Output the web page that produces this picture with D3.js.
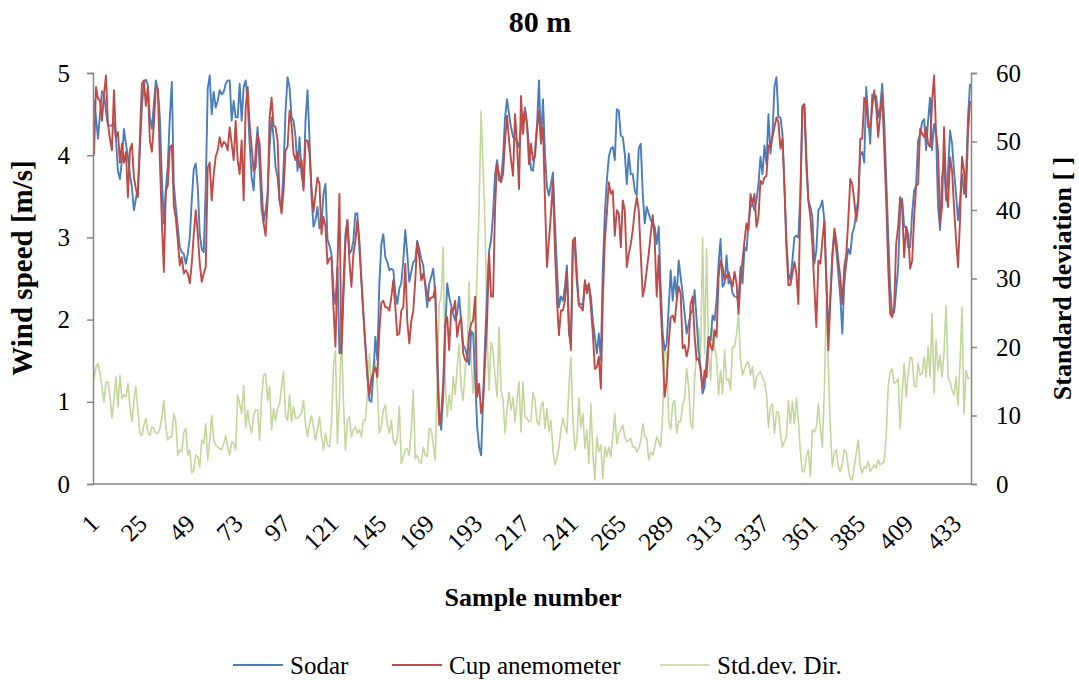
<!DOCTYPE html>
<html>
<head>
<meta charset="utf-8">
<script src="https://cdn.jsdelivr.net/npm/d3@7"></script>
<style>
  body { margin: 0; background: #fff; }
  text { font-family: "Liberation Serif", "Times New Roman", serif; }
</style>
</head>
<body>
<svg id="chart"></svg>
<script>
const width = 1079;
const height = 680;

// wind speed from the sodar, m/s
const sodar = [
  4.68,4.46,4.2,4.5,4.78,4.74,4.54,4.36,4.36,4.36,
  4.4,4.2,3.81,3.71,3.94,4.32,4.14,3.98,3.77,3.61,
  3.33,3.47,3.61,4.06,4.58,4.89,4.92,4.85,4.46,4.32,
  4.62,4.91,4.79,4.46,3.73,3.17,3.57,3.89,4.46,4.89,
  3.65,3.37,3.13,2.88,2.82,2.8,2.68,2.8,3.0,3.45,
  3.83,3.9,3.61,3.04,2.86,2.82,3.61,4.81,4.97,4.5,
  4.77,4.58,4.66,4.79,4.74,4.77,4.87,4.91,4.91,4.42,
  4.66,4.46,4.46,4.87,4.42,4.83,4.91,4.66,4.14,3.73,
  3.57,4.06,4.34,3.85,3.33,3.19,3.33,3.53,4.1,4.46,
  4.22,3.85,3.73,3.45,3.37,3.85,4.54,4.95,4.83,4.46,
  4.42,4.22,3.81,4.22,3.77,3.61,4.42,4.79,4.2,3.5,
  3.13,3.21,3.37,3.11,3.17,3.53,3.65,2.98,2.9,2.8,
  2.36,2.19,2.64,1.59,1.71,2.44,3.04,3.21,2.8,2.84,
  2.96,3.29,3.29,2.86,2.48,2.07,1.71,1.3,1.02,1.0,
  1.34,1.79,1.51,2.44,2.92,3.04,2.76,2.7,2.6,2.62,
  2.6,2.32,2.19,2.38,2.44,2.72,3.09,2.8,2.46,2.58,
  2.7,2.72,2.96,2.86,2.74,2.66,2.4,2.15,2.44,2.52,
  2.62,2.32,1.63,0.86,0.66,1.06,1.83,2.44,2.28,2.17,
  2.07,1.99,2.07,2.28,1.99,1.69,1.65,1.55,1.45,1.86,
  1.83,1.3,0.7,0.45,0.35,1.02,1.75,2.32,2.84,2.96,
  3.29,3.77,3.94,3.69,3.71,3.98,4.46,4.68,4.5,4.34,
  4.22,4.2,4.16,4.1,4.36,4.42,4.58,4.38,4.1,3.83,
  3.81,4.06,4.36,4.91,4.14,4.68,4.02,3.61,3.51,3.65,
  3.79,3.17,2.64,2.15,2.28,2.23,2.4,2.66,1.83,1.69,
  2.96,2.86,2.44,2.19,2.19,2.17,2.44,2.4,2.42,2.28,
  1.99,1.79,1.59,1.83,1.51,2.64,3.29,3.69,3.98,4.08,
  4.1,3.94,4.56,4.54,4.24,4.22,4.02,3.65,4.02,3.77,
  3.77,3.57,3.51,4.08,4.14,3.53,3.17,3.37,3.29,3.21,
  3.17,3.13,2.92,3.13,2.4,1.83,1.63,1.71,2.15,2.6,
  2.23,2.52,2.28,2.72,2.52,2.32,2.07,1.83,1.95,2.07,
  2.11,2.36,1.99,1.63,1.42,1.1,1.18,1.51,1.79,1.75,
  2.05,1.99,2.23,2.68,2.98,2.4,2.44,2.78,2.44,2.48,
  2.32,2.28,2.28,2.23,2.64,2.44,2.88,2.84,3.17,3.37,
  3.41,3.33,3.45,3.65,3.98,3.77,4.12,3.89,4.5,4.02,
  4.26,4.83,4.95,4.46,4.46,4.26,3.65,2.96,2.56,2.48,
  2.72,3.0,3.02,3.0,3.53,4.6,4.62,3.85,3.45,3.37,
  3.25,2.68,2.84,3.33,3.37,3.45,3.21,2.48,1.83,2.28,
  2.8,3.04,2.84,2.56,2.28,1.83,2.44,2.68,2.86,2.8,
  3.04,3.13,3.3,3.47,4.0,4.04,3.91,4.83,4.46,4.14,
  4.74,4.7,4.72,4.46,4.58,4.87,4.42,3.73,3.04,2.4,
  2.07,2.09,2.36,2.64,3.33,3.47,3.13,3.13,2.88,2.88,
  3.29,3.57,3.63,4.18,4.26,4.4,4.44,4.06,4.42,4.7,
  4.06,4.38,4.26,3.37,3.09,3.73,3.94,3.45,3.81,4.3,
  4.14,3.81,3.53,3.21,3.45,3.77,3.53,3.73,4.46,4.87
];

// wind speed from the cup anemometer, m/s
const cup = [
  4.0,4.83,4.69,4.66,4.42,4.74,4.97,4.38,4.2,4.06,
  4.79,4.22,4.28,3.91,4.14,3.91,4.04,3.49,4.06,4.14,
  3.73,3.59,3.49,4.22,4.87,4.91,4.6,4.83,4.18,4.04,
  4.38,4.83,4.81,3.94,3.21,2.58,3.57,3.63,4.1,4.12,
  3.39,3.23,2.96,2.66,2.76,2.56,2.6,2.56,2.44,2.68,
  3.04,3.33,3.04,2.68,2.46,2.56,2.64,3.85,3.91,3.45,
  3.77,3.98,4.06,4.22,4.1,4.16,4.14,4.06,4.34,4.14,
  3.94,4.42,3.94,3.77,4.18,3.45,4.58,4.83,4.38,4.1,
  3.81,3.85,4.26,4.14,3.61,3.17,3.02,3.45,4.46,4.7,
  4.36,4.34,4.18,3.45,3.29,3.57,4.06,4.1,4.54,4.38,
  4.02,3.94,4.04,3.85,3.94,3.57,4.18,4.18,4.02,3.6,
  3.31,3.53,3.73,3.65,3.04,3.25,3.13,2.68,2.74,2.76,
  2.15,1.67,2.64,3.53,1.59,2.27,2.92,3.21,2.72,2.4,
  2.8,2.96,3.21,2.96,2.48,2.07,1.67,1.34,1.08,1.28,
  1.36,1.42,1.3,1.86,2.2,2.23,2.15,2.15,2.11,2.27,
  2.48,2.15,1.81,1.83,2.11,2.15,2.68,1.98,1.71,1.98,
  2.11,2.48,2.94,2.76,2.48,2.56,2.44,2.32,2.23,2.27,
  2.27,2.4,1.42,0.72,0.86,1.22,1.95,2.03,1.63,2.13,
  2.11,2.23,1.79,1.95,2.03,1.59,1.51,1.49,1.83,1.95,
  1.99,2.28,1.06,1.22,0.86,1.02,1.51,1.99,2.8,2.28,
  2.28,3.37,3.9,3.77,3.67,3.77,4.18,4.48,4.18,3.94,
  3.75,4.5,4.14,3.59,4.72,4.26,4.54,4.38,3.89,4.14,
  3.94,3.98,4.32,4.54,4.16,4.34,3.45,2.64,2.96,3.29,
  3.69,2.84,2.23,1.81,2.11,2.11,2.23,2.58,1.95,1.63,
  2.96,3.0,2.56,2.17,2.15,2.11,2.48,2.32,2.44,2.15,
  1.83,1.4,1.42,1.55,1.16,2.23,2.96,3.29,3.67,3.53,
  3.57,3.02,3.33,3.29,2.88,3.45,3.33,2.64,2.8,2.92,
  3.09,3.33,3.49,3.33,2.8,2.28,2.4,2.6,2.8,3.04,
  3.27,2.96,2.28,2.78,2.15,1.63,1.06,1.26,1.71,2.03,
  2.05,1.97,2.23,2.4,2.32,1.65,1.69,1.55,1.67,2.19,
  2.28,1.79,1.51,1.53,1.38,1.16,1.38,1.3,1.79,1.67,
  1.63,1.87,1.79,2.52,2.72,2.64,2.48,2.52,2.58,2.48,
  2.4,2.58,2.44,2.07,2.48,2.72,2.96,3.17,3.09,3.53,
  3.41,3.53,3.13,3.25,3.69,3.65,3.73,3.75,4.12,4.1,
  4.22,4.34,4.46,4.4,4.08,4.2,3.61,2.88,2.42,2.42,
  2.56,2.7,2.56,2.19,3.45,4.58,4.62,3.98,3.45,3.25,
  2.92,2.4,1.91,2.72,2.68,2.96,3.21,2.48,1.63,2.23,
  2.72,3.11,2.96,2.72,2.52,2.19,2.64,2.8,3.21,3.71,
  3.65,3.45,3.2,3.4,4.2,4.2,4.7,4.66,4.34,4.34,
  4.58,4.79,4.58,4.22,4.5,4.74,4.1,3.45,2.64,2.07,
  2.03,2.15,2.92,3.13,3.49,3.37,2.76,3.13,3.04,2.62,
  2.72,3.25,3.63,3.65,4.32,4.26,4.22,4.34,4.14,4.1,
  4.66,4.97,4.26,4.06,3.17,3.37,4.34,3.57,3.37,3.98,
  3.81,3.37,2.98,2.64,3.21,3.98,3.81,3.49,4.26,4.66
];

// standard deviation of wind direction (right axis)
const stdDir = [
  15.4,17.1,17.6,16.1,14.2,12.0,14.9,14.9,13.0,9.6,
  12.2,15.6,11.3,15.9,12.5,13.0,12.7,14.7,11.3,9.1,
  12.2,14.2,10.8,7.4,7.1,8.6,9.6,7.6,7.1,8.3,
  8.1,7.4,7.4,8.1,9.6,12.2,8.3,6.4,6.9,6.9,
  10.3,9.1,4.2,5.0,4.7,7.6,8.1,4.2,5.0,1.6,
  2.0,4.2,4.0,2.5,6.4,5.9,8.8,3.5,6.4,10.0,
  6.4,5.7,5.4,5.2,5.0,5.9,7.1,5.4,4.2,6.2,
  5.9,5.0,13.0,11.7,10.3,14.3,8.3,10.8,8.6,7.4,
  10.0,10.8,10.8,6.4,12.7,15.9,16.1,12.2,14.2,7.9,
  11.0,9.3,11.0,11.7,14.2,16.4,9.8,9.3,13.0,9.1,
  11.3,9.6,9.6,10.0,10.3,12.2,8.8,6.9,8.8,10.0,
  8.3,6.4,7.9,9.8,6.9,5.0,7.4,5.7,5.4,8.8,
  17.1,19.5,5.9,12.2,22.4,12.2,5.0,9.3,9.8,6.9,
  7.9,8.3,7.4,7.9,6.9,9.3,9.3,13.2,19.0,14.2,
  17.3,18.1,14.2,7.4,8.3,10.8,11.5,8.8,7.4,9.3,
  6.4,5.7,6.9,11.3,3.0,4.0,5.0,5.2,4.2,7.9,
  13.7,3.7,4.2,3.3,3.0,5.4,4.2,4.0,8.1,7.9,
  5.9,3.5,14.2,26.3,27.3,34.6,15.6,9.8,13.0,10.8,
  15.6,13.0,17.1,20.5,14.2,12.2,16.6,19.0,29.5,18.1,
  13.2,21.0,30.7,40.4,54.5,46.2,37.5,21.9,13.7,20.7,
  19.5,15.6,12.7,22.9,13.7,12.2,7.4,10.8,13.4,10.8,
  12.7,9.1,12.2,14.9,7.6,14.9,9.8,9.6,9.1,9.3,
  13.4,12.2,9.1,8.6,11.3,12.0,8.1,11.0,7.6,9.3,
  5.0,2.8,3.7,5.4,7.9,9.6,8.3,7.4,14.2,18.5,
  9.3,5.0,6.4,12.5,8.3,10.3,5.2,7.9,3.0,11.7,
  4.5,0.6,6.9,4.7,5.7,0.8,5.4,4.0,5.4,4.0,
  6.9,10.3,5.9,7.4,7.9,8.6,6.9,6.2,6.4,6.7,
  5.4,5.4,4.7,5.2,6.2,8.8,6.9,6.7,3.5,4.7,
  4.2,5.4,6.9,6.2,5.4,10.3,19.5,19.0,9.3,7.9,
  11.7,12.2,7.4,9.1,9.1,11.7,12.5,16.8,14.2,8.8,
  8.1,15.4,19.0,22.9,18.5,36.0,19.0,34.3,19.5,15.1,
  22.9,20.0,18.3,13.0,16.6,13.2,19.5,15.1,15.4,13.7,
  20.0,20.0,21.9,24.9,18.1,15.9,16.8,17.6,17.8,15.9,
  17.1,13.9,15.6,16.1,16.4,15.6,14.9,13.2,8.3,11.3,
  11.7,7.4,10.5,10.5,7.4,5.4,6.2,6.9,12.2,8.8,
  12.0,8.8,12.5,9.3,4.7,1.8,1.8,4.0,5.0,1.1,
  7.9,7.6,8.3,11.7,8.3,5.4,13.7,26.8,17.1,8.3,
  2.5,4.5,5.0,2.5,1.8,3.0,5.0,4.7,2.3,0.8,
  0.6,2.5,4.5,6.4,2.5,1.6,2.5,2.3,3.3,1.8,
  2.3,2.8,2.3,3.5,2.8,3.0,3.3,6.9,14.2,16.4,
  16.8,14.7,14.9,15.4,8.1,13.2,17.6,12.7,16.1,18.5,
  18.3,14.4,14.2,17.6,15.9,16.1,18.5,15.6,20.0,15.6,
  24.9,13.2,21.0,16.6,18.8,15.6,19.3,26.1,15.6,14.9,
  13.7,13.0,15.6,11.5,17.6,25.8,10.3,16.6,15.4,15.6
];

const samples = d3.range(1, sodar.length + 1);
const sampleTicks = samples.filter(d => (d - 1) % 24 === 0);
const speedTicks = [0, 1, 2, 3, 4, 5];
const stdTicks = [0, 10, 20, 30, 40, 50, 60];

const seriesNames = ["Sodar", "Cup anemometer", "Std.dev. Dir."];
const seriesColors = ["#4a7ebb", "#be4b48", "#c3d69b"];

const margin = {top: 73, right: 108, bottom: 196, left: 93};
const plotRight = width - margin.right;
const plotBottom = height - margin.bottom;

const svg = d3.select("#chart")
  .attr("width", width)
  .attr("height", height)
  .attr("viewBox", [0, 0, width, height]);

const x = d3.scalePoint()
  .domain(samples)
  .range([margin.left, plotRight])
  .padding(0.5);

const y = d3.scaleLinear().domain([0, 5]).range([plotBottom, margin.top]);
const y2 = d3.scaleLinear().domain([0, 60]).range([plotBottom, margin.top]);

const axisColor = "#868686";
const tickFont = "25px";

// lines first (std dev under the wind speeds)
const lineStd = d3.line().x((d, i) => x(samples[i])).y(d => y2(d));
const lineSpeed = d3.line().x((d, i) => x(samples[i])).y(d => y(d));

svg.append("path")
  .datum(stdDir)
  .attr("fill", "none")
  .attr("stroke", seriesColors[2])
  .attr("stroke-width", 1.6)
  .attr("stroke-linejoin", "round")
  .attr("d", lineStd);

svg.append("path")
  .datum(sodar)
  .attr("fill", "none")
  .attr("stroke", seriesColors[0])
  .attr("stroke-width", 1.9)
  .attr("stroke-linejoin", "round")
  .attr("d", lineSpeed);

svg.append("path")
  .datum(cup)
  .attr("fill", "none")
  .attr("stroke", seriesColors[1])
  .attr("stroke-width", 1.9)
  .attr("stroke-linejoin", "round")
  .attr("d", lineSpeed);

// left axis
const yAxis = svg.append("g")
  .attr("transform", `translate(${margin.left},0)`)
  .call(d3.axisLeft(y).tickValues(speedTicks).tickSize(6).tickPadding(17).tickFormat(d3.format("d")));

// right axis
const y2Axis = svg.append("g")
  .attr("transform", `translate(${plotRight},0)`)
  .call(d3.axisRight(y2).tickValues(stdTicks).tickSize(6).tickPadding(19).tickFormat(d3.format("d")));

// bottom axis
const xAxis = svg.append("g")
  .attr("transform", `translate(0,${plotBottom})`)
  .call(d3.axisBottom(x).tickValues(sampleTicks).tickSize(0).tickPadding(0));

xAxis.selectAll(".tick text")
  .attr("text-anchor", "end")
  .attr("transform", "translate(0,35) rotate(-45)")
  .attr("dy", "0.35em")
  .attr("y", 0);

[yAxis, y2Axis, xAxis].forEach(g => {
  g.select(".domain").attr("stroke", axisColor).attr("stroke-width", 1.5);
  g.selectAll(".tick line").attr("stroke", axisColor).attr("stroke-width", 1.5);
  g.selectAll(".tick text")
    .attr("fill", "#000")
    .style("font-family", "'Liberation Serif', serif")
    .style("font-size", tickFont);
});
xAxis.select(".domain").attr("d", `M${margin.left},0H${plotRight}`);

// titles
svg.append("text")
  .attr("x", 540).attr("y", 32)
  .attr("text-anchor", "middle")
  .style("font-size", "30px").style("font-weight", "bold")
  .text("80 m");

svg.append("text")
  .attr("transform", "translate(32,268) rotate(-90)")
  .attr("text-anchor", "middle")
  .style("font-size", "29px").style("font-weight", "bold")
  .text("Wind speed [m/s]");

svg.append("text")
  .attr("transform", `translate(1071,${(margin.top + plotBottom) / 2}) rotate(-90)`)
  .attr("text-anchor", "middle")
  .style("font-size", "26px").style("font-weight", "bold")
  .text("Standard deviation [ ]");

svg.append("text")
  .attr("x", 533).attr("y", 606)
  .attr("text-anchor", "middle")
  .style("font-size", "26px").style("font-weight", "bold")
  .text("Sample number");

// legend
const legendX = [233, 392, 660];
const legend = svg.append("g")
  .selectAll("g")
  .data(seriesNames)
  .join("g")
    .attr("transform", (d, i) => `translate(${legendX[i]},665)`);

legend.append("line")
  .attr("x1", 0).attr("x2", 50)
  .attr("stroke", (d, i) => seriesColors[i])
  .attr("stroke-width", (d, i) => i === 2 ? 1.6 : 1.9);

legend.append("text")
  .attr("x", 57).attr("dy", "0.35em")
  .style("font-size", tickFont)
  .text(d => d);
</script>
</body>
</html>
